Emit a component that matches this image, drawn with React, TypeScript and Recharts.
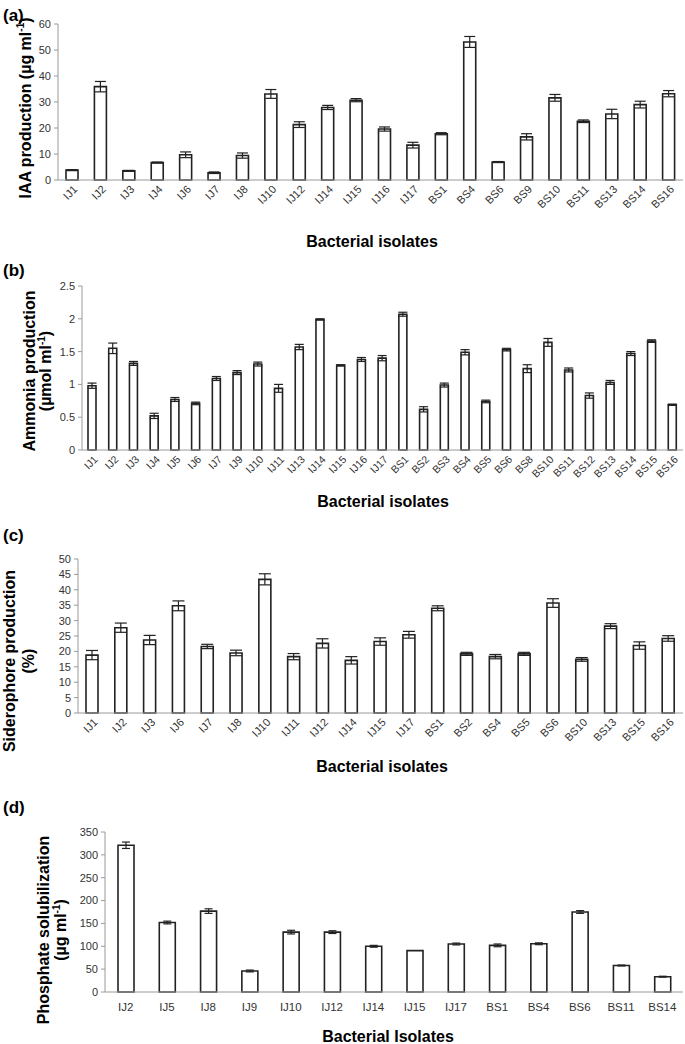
import React from 'react';
import { BarChart, Bar, XAxis, YAxis, ErrorBar } from 'recharts';

const FONT = "Arial, 'Liberation Sans', Helvetica, sans-serif";
const AXIS = '#9a9a9a';
const INK = '#222';

// (a) IAA production
const iaaIsolates = ['IJ1', 'IJ2', 'IJ3', 'IJ4', 'IJ6', 'IJ7', 'IJ8', 'IJ10', 'IJ12', 'IJ14', 'IJ15', 'IJ16', 'IJ17', 'BS1', 'BS4', 'BS6', 'BS9', 'BS10', 'BS11', 'BS13', 'BS14', 'BS16'];
const iaaValues = [3.8, 35.9, 3.5, 6.7, 9.7, 2.8, 9.4, 33.1, 21.3, 27.9, 30.7, 19.6, 13.4, 17.8, 53.1, 6.9, 16.6, 31.6, 22.6, 25.4, 29.0, 33.2];
const iaaErrors = [0.2, 2.0, 0.2, 0.2, 1.1, 0.3, 1.0, 1.7, 1.1, 0.8, 0.6, 0.8, 1.1, 0.4, 2.1, 0.2, 1.2, 1.3, 0.5, 1.8, 1.3, 1.2];
const iaaTicks = [0, 10, 20, 30, 40, 50, 60];

// (b) Ammonia production
const nh3Isolates = ['IJ1', 'IJ2', 'IJ3', 'IJ4', 'IJ5', 'IJ6', 'IJ7', 'IJ9', 'IJ10', 'IJ11', 'IJ13', 'IJ14', 'IJ15', 'IJ16', 'IJ17', 'BS1', 'BS2', 'BS3', 'BS4', 'BS5', 'BS6', 'BS8', 'BS10', 'BS11', 'BS12', 'BS13', 'BS14', 'BS15', 'BS16'];
const nh3Values = [0.98, 1.55, 1.32, 0.52, 0.77, 0.71, 1.09, 1.18, 1.31, 0.94, 1.57, 1.99, 1.29, 1.38, 1.4, 2.07, 0.62, 0.99, 1.49, 0.74, 1.53, 1.24, 1.64, 1.22, 0.83, 1.03, 1.47, 1.66, 0.69];
const nh3Errors = [0.04, 0.08, 0.03, 0.04, 0.03, 0.02, 0.03, 0.03, 0.03, 0.06, 0.04, 0.01, 0.01, 0.03, 0.04, 0.03, 0.04, 0.03, 0.04, 0.02, 0.02, 0.06, 0.06, 0.03, 0.04, 0.03, 0.03, 0.02, 0.01];
const nh3Ticks = [0, 0.5, 1, 1.5, 2, 2.5];

// (c) Siderophore production
const sidIsolates = ['IJ1', 'IJ2', 'IJ3', 'IJ6', 'IJ7', 'IJ8', 'IJ10', 'IJ11', 'IJ12', 'IJ14', 'IJ15', 'IJ17', 'BS1', 'BS2', 'BS4', 'BS5', 'BS6', 'BS10', 'BS13', 'BS15', 'BS16'];
const sidValues = [18.8, 27.7, 23.7, 34.8, 21.6, 19.5, 43.4, 18.3, 22.6, 17.1, 23.2, 25.4, 34.0, 19.2, 18.3, 19.2, 35.7, 17.4, 28.2, 21.9, 24.2];
const sidErrors = [1.5, 1.5, 1.5, 1.6, 0.7, 0.9, 1.8, 1.0, 1.5, 1.2, 1.2, 1.1, 0.8, 0.5, 0.7, 0.5, 1.4, 0.6, 0.8, 1.2, 0.9];
const sidTicks = [0, 5, 10, 15, 20, 25, 30, 35, 40, 45, 50];

// (d) Phosphate solubilization
const phoIsolates = ['IJ2', 'IJ5', 'IJ8', 'IJ9', 'IJ10', 'IJ12', 'IJ14', 'IJ15', 'IJ17', 'BS1', 'BS4', 'BS6', 'BS11', 'BS14'];
const phoValues = [321, 152, 177, 46, 131, 131, 100, 90.5, 105, 102, 105.5, 175, 58, 33.5];
const phoErrors = [7, 3, 5, 2, 4, 3, 2, 0, 2, 3, 2, 3, 1, 1];
const phoTicks = [0, 50, 100, 150, 200, 250, 300, 350];

const rows = (names: string[], vals: number[], errs: number[]) =>
  names.map((name, i) => ({ name, value: vals[i], err: errs[i] }));

const SlantTick = (props: any) => {
  const { x, y, payload, fontSize } = props;
  return (
    <g transform={`translate(${x + 6},${y + 9}) rotate(-45)`}>
      <text x={0} y={0} textAnchor="end" fontSize={fontSize} fill="#333" fontFamily={FONT}>
        {payload.value}
      </text>
    </g>
  );
};

const FlatTick = (props: any) => {
  const { x, y, payload } = props;
  return (
    <text x={x} y={y + 18} textAnchor="middle" fontSize={11.5} fill="#333" fontFamily={FONT}>
      {payload.value}
    </text>
  );
};

type PanelProps = {
  top: number;
  height: number;
  xHeight: number;
  data: { name: string; value: number; err: number }[];
  yWidth: number;
  yTicks: number[];
  barSize: number;
  capWidth: number;
  slant: boolean;
  tickFont?: number;
};

function Panel({ top, height, xHeight, data, yWidth, yTicks, barSize, capWidth, slant, tickFont = 11 }: PanelProps) {
  const n = data.length;
  const bounds = data.map((_, i) => i).concat(n);
  return (
    <div style={{ position: 'absolute', left: 0, top }}>
      <BarChart width={685} height={height} data={data} margin={{ top: 24, right: 2, left: 0, bottom: 0 }}>
        {/* boundary tick marks between categories, Excel style */}
        <XAxis
          xAxisId="a-grid"
          type="number"
          domain={[0, n]}
          ticks={bounds}
          allowDataOverflow
          height={1}
          tick={false}
          tickSize={4}
          axisLine={{ stroke: AXIS }}
          tickLine={{ stroke: AXIS }}
        />
        <XAxis
          xAxisId="b-cat"
          dataKey="name"
          height={xHeight - 1}
          axisLine={false}
          tickLine={false}
          tickSize={0}
          tickMargin={0}
          interval={0}
          tick={slant ? <SlantTick fontSize={tickFont} /> : <FlatTick />}
        />
        <YAxis
          width={yWidth}
          domain={[yTicks[0], yTicks[yTicks.length - 1]]}
          ticks={yTicks}
          interval={0}
          tickSize={4}
          tickMargin={3}
          axisLine={{ stroke: AXIS }}
          tickLine={{ stroke: AXIS }}
          tick={{ fontSize: 11, fill: '#333', fontFamily: FONT }}
        />
        <Bar
          xAxisId="b-cat"
          dataKey="value"
          fill="#fff"
          stroke={INK}
          strokeWidth={1.6}
          barSize={barSize}
          isAnimationActive={false}
        >
          <ErrorBar dataKey="err" width={capWidth} stroke={INK} strokeWidth={1.2} direction="y" />
        </Bar>
      </BarChart>
    </div>
  );
}

const Letter = ({ top, text }: { top: number; text: string }) => (
  <div style={{ position: 'absolute', left: 3, top: top - 9, fontFamily: FONT, fontWeight: 'bold', fontSize: 17, lineHeight: '20px' }}>
    {text}
  </div>
);

const XTitle = ({ cx, cy, text }: { cx: number; cy: number; text: string }) => (
  <div style={{ position: 'absolute', left: cx, top: cy, transform: 'translate(-50%,-50%)', whiteSpace: 'nowrap', fontFamily: FONT, fontWeight: 'bold', fontSize: 16 }}>
    {text}
  </div>
);

const YTitle = ({ cx, cy, lh = 17, children }: { cx: number; cy: number; lh?: number; children: React.ReactNode }) => (
  <div style={{ position: 'absolute', left: cx, top: cy, transform: 'translate(-50%,-50%) rotate(-90deg)', whiteSpace: 'nowrap', textAlign: 'center', fontFamily: FONT, fontWeight: 'bold', fontSize: 16, lineHeight: `${lh}px` }}>
    {children}
  </div>
);

const Sup = () => <sup style={{ fontSize: 10, lineHeight: 0 }}>-1</sup>;

export default function App() {
  return (
    <div style={{ position: 'absolute', left: 0, top: 0, width: 685, height: 1044, background: '#fff' }}>
      <Panel top={0} height={215} xHeight={35} data={rows(iaaIsolates, iaaValues, iaaErrors)} yWidth={58} yTicks={iaaTicks} barSize={12} capWidth={5.5} slant />
      <Panel top={262} height={223} xHeight={35} data={rows(nh3Isolates, nh3Values, nh3Errors)} yWidth={82} yTicks={nh3Ticks} barSize={8} capWidth={4.5} slant tickFont={10.5} />
      <Panel top={535} height={213} xHeight={35} data={rows(sidIsolates, sidValues, sidErrors)} yWidth={78} yTicks={sidTicks} barSize={12} capWidth={6} slant />
      <Panel top={808} height={214} xHeight={30} data={rows(phoIsolates, phoValues, phoErrors)} yWidth={105} yTicks={phoTicks} barSize={16} capWidth={4} slant={false} />

      <Letter top={15} text="(a)" />
      <Letter top={270} text="(b)" />
      <Letter top={535} text="(c)" />
      <Letter top={807} text="(d)" />

      <YTitle cx={25} cy={108}>IAA production (µg ml<Sup />)</YTitle>
      <YTitle cx={38} cy={371} lh={16}>Ammonia production<br />(µmol ml<Sup />)</YTitle>
      <YTitle cx={19} cy={661} lh={19}>Siderophore production<br />(%)</YTitle>
      <YTitle cx={52} cy={930} lh={17}>Phosphate solubilization<br />(µg ml<Sup />)</YTitle>

      <XTitle cx={372} cy={242} text="Bacterial isolates" />
      <XTitle cx={383} cy={502} text="Bacterial isolates" />
      <XTitle cx={382} cy={767} text="Bacterial isolates" />
      <XTitle cx={388} cy={1037} text="Bacterial Isolates" />
    </div>
  );
}
